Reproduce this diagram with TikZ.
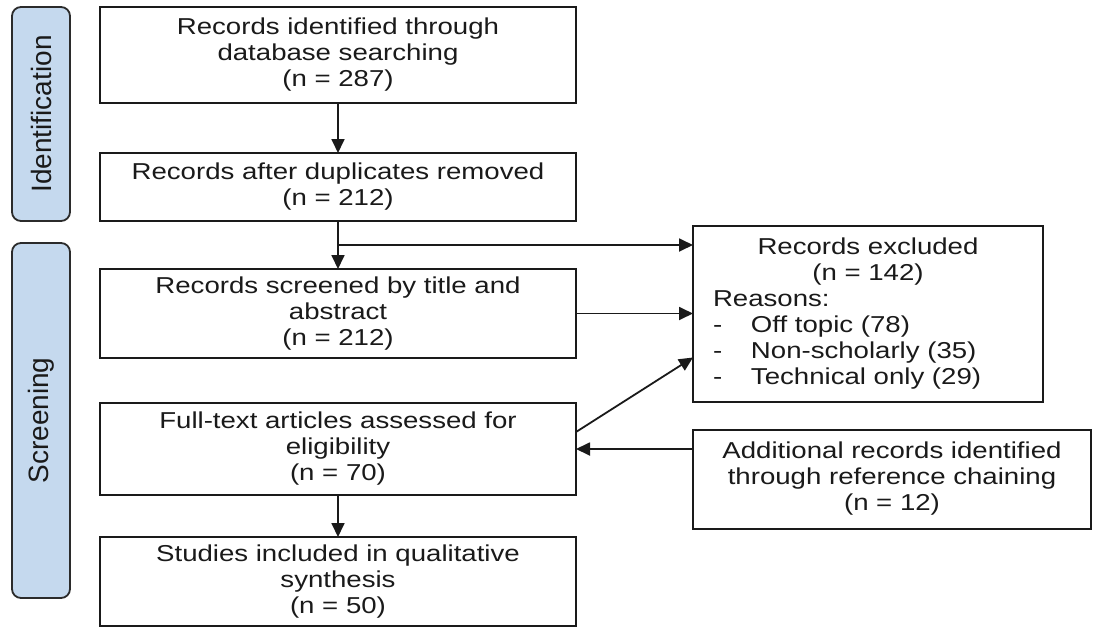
\documentclass[tikz,border=0pt]{standalone}
\usepackage{fontspec}
\setmainfont{Liberation Sans}
\newfontfamily\boxfont[FakeStretch=1.2]{Liberation Sans}
\usetikzlibrary{positioning, arrows.meta, calc}
\definecolor{phasefill}{HTML}{C5D9EE}
\definecolor{phaseline}{HTML}{2B2B2B}
\definecolor{inkgray}{HTML}{1A1A1A}

\begin{document}
\begin{tikzpicture}[
    x=0.5pt, y=-0.5pt,
    >={Triangle[length=7pt, width=6.5pt]},
    stage/.style={
        rectangle, draw=inkgray, line width=1pt, fill=white,
        minimum width=238pt, inner sep=0pt, outer sep=0pt,
        align=center, text=inkgray,
        font=\boxfont\fontsize{11.5}{13}\selectfont
    },
    phase/.style={
        rectangle, draw=phaseline, line width=0.9pt, fill=phasefill,
        rounded corners=4.5pt, minimum width=29pt, minimum height=#1,
        inner sep=0pt, outer sep=0pt, text=inkgray,
        font=\fontsize{14}{16}\selectfont
    },
    flow/.style={->, line width=0.9pt, draw=inkgray}
]
\useasboundingbox (0,0) rectangle (1094,627);

%% ---- Main column ----
\node[stage, minimum height=48pt] (b1) at (338,55) {%
    Records identified through\\database searching\\(n = 287)};
\node[stage, minimum height=34pt, below=25pt of b1] (b2) {%
    Records after duplicates removed\\(n = 212)};
\node[stage, minimum height=44.5pt, below=24pt of b2] (b3) {%
    Records screened by title and\\abstract\\(n = 212)};
\node[stage, minimum height=46pt, below=22.5pt of b3] (b4) {%
    Full-text articles assessed for\\eligibility\\(n = 70)};
\node[stage, minimum height=44.5pt, below=21pt of b4] (b5) {%
    Studies included in qualitative\\synthesis\\(n = 50)};

%% ---- Right column ----
\node[stage, minimum width=175pt, minimum height=88pt, text width=155pt,
      align=left, right=58.5pt of b3] (excl) {%
    \makebox[155pt]{Records excluded}\\
    \makebox[155pt]{(n = 142)}\\
    Reasons:\\
    \makebox[19pt][l]{-}Off topic (78)\\
    \makebox[19pt][l]{-}Non-scholarly (35)\\
    \makebox[19pt][l]{-}Technical only (29)};
\node[stage, minimum width=199pt, minimum height=49.5pt,
      below=14pt of excl.south west, anchor=north west] (add) {%
    Additional records identified\\through reference chaining\\(n = 12)};

%% ---- Phase bars ----
\node[phase=107pt, left=15pt of b1.north west, anchor=north east] (ident)
    {\rotatebox{90}{Identification}};
\node[phase=177.5pt, below=11pt of ident] (screen)
    {\rotatebox{90}{Screening}};

%% ---- Connectors ----
\draw[flow] (b1) -- (b2);
\draw[flow] (b2) -- (b3);
\coordinate (split) at ($(b2.south)!0.5!(b3.north)$);
\draw[flow] (split) -- (split -| excl.west);
\draw[flow] (b3.east) -- (b3.east -| excl.west);
\draw[flow] ([yshift=8.5pt]b4.east) -- ([yshift=-22pt]excl.west);
\draw[flow] (b4.east -| add.west) -- (b4.east);
\draw[flow] (b4) -- (b5);

\end{tikzpicture}
\end{document}
